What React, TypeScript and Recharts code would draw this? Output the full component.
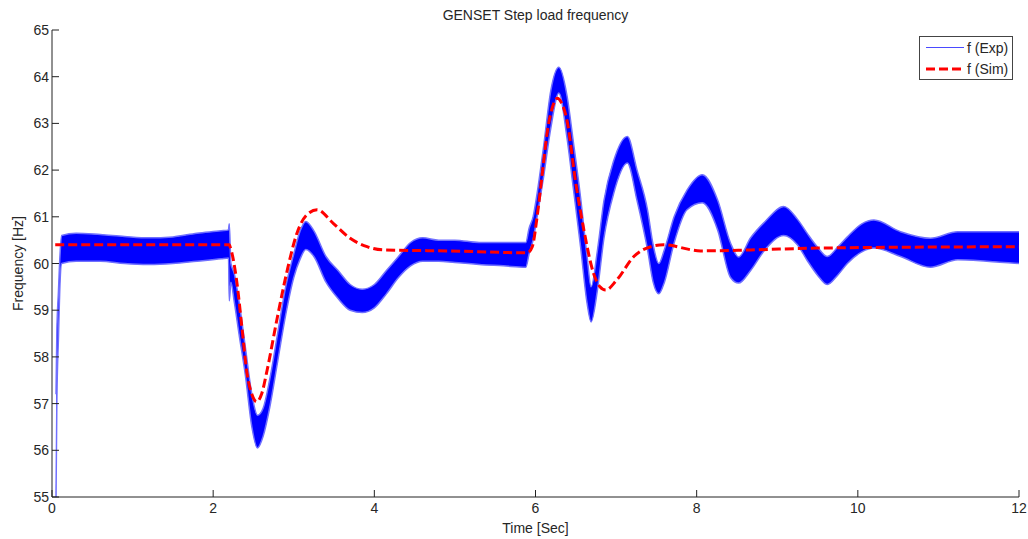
import React from 'react';
import { ComposedChart, Area, Line, XAxis, YAxis } from 'recharts';

// Experimental signal (dense oscillation) as upper / lower envelope
const expT = [0.05, 0.06, 0.08, 0.10, 0.12, 0.3, 0.6, 0.9, 1.2, 1.5, 1.8, 2.1, 2.19, 2.2, 2.22, 2.26, 2.32, 2.4, 2.48, 2.55, 2.62, 2.7, 2.8, 2.9, 3.0, 3.08, 3.15, 3.25, 3.4, 3.55, 3.7, 3.85, 4.0, 4.15, 4.3, 4.45, 4.6, 4.8, 5.0, 5.3, 5.6, 5.88, 5.92, 5.97, 6.02, 6.1, 6.19, 6.29, 6.39, 6.47, 6.56, 6.64, 6.69, 6.77, 6.85, 6.97, 7.14, 7.26, 7.39, 7.46, 7.53, 7.6, 7.72, 7.88, 8.07, 8.26, 8.42, 8.52, 8.67, 8.85, 9.08, 9.25, 9.37, 9.5, 9.62, 9.75, 9.87, 10.05, 10.2, 10.53, 10.9, 11.24, 11.6, 12.0];
const expLow = [55.0, 57.0, 58.4, 59.6, 60.0, 60.05, 60.05, 60.0, 59.98, 60.0, 60.05, 60.1, 60.12, 59.2, 59.6, 59.2, 58.5, 57.6, 56.5, 56.05, 56.3, 56.9, 57.9, 58.9, 59.7, 60.1, 60.3, 60.15, 59.6, 59.25, 59.0, 58.95, 59.05, 59.35, 59.7, 59.95, 60.05, 60.05, 60.02, 59.98, 59.95, 59.92, 60.2, 60.5, 61.0, 61.85, 62.9, 63.65, 62.7, 61.6, 60.35, 59.15, 58.75, 59.45, 60.55, 61.5, 62.15, 61.35, 60.3, 59.6, 59.35, 59.6, 60.44, 61.15, 61.3, 60.72, 59.7, 59.58, 59.85, 60.3, 60.6, 60.4, 60.07, 59.75, 59.55, 59.75, 60.0, 60.25, 60.33, 60.15, 59.92, 60.08, 60.05, 60.0];
const expHigh = [57.2, 58.5, 59.4, 60.2, 60.6, 60.65, 60.62, 60.58, 60.55, 60.57, 60.65, 60.7, 60.72, 60.85, 60.0, 59.8, 59.2, 58.2, 57.2, 56.75, 56.9, 57.5, 58.5, 59.5, 60.2, 60.7, 60.9, 60.7, 60.15, 59.85, 59.55, 59.45, 59.55, 59.85, 60.15, 60.45, 60.55, 60.5, 60.5, 60.45, 60.45, 60.45, 60.75, 61.0, 61.5, 62.5, 63.7, 64.2, 63.6, 62.6, 61.4, 60.15, 59.5, 60.3, 61.35, 62.2, 62.72, 62.0, 61.15, 60.4, 60.0, 60.3, 61.0, 61.57, 61.9, 61.36, 60.44, 60.14, 60.55, 60.9, 61.22, 60.95, 60.65, 60.35, 60.15, 60.35, 60.57, 60.85, 60.93, 60.68, 60.54, 60.68, 60.68, 60.68];

// Simulated frequency
const simT = [0.04, 2.2, 2.21, 2.29, 2.36, 2.42, 2.48, 2.54, 2.6, 2.67, 2.79, 2.92, 3.04, 3.16, 3.29, 3.49, 3.7, 3.91, 4.12, 4.9, 5.9, 5.96, 6.02, 6.08, 6.15, 6.22, 6.27, 6.32, 6.39, 6.5, 6.6, 6.72, 6.8, 6.87, 7.01, 7.22, 7.43, 7.59, 8.05, 8.67, 9.5, 12.0];
const simF = [60.4, 60.4, 60.36, 59.65, 58.58, 57.65, 57.2, 57.04, 57.2, 57.72, 58.79, 59.86, 60.65, 61.04, 61.15, 60.86, 60.54, 60.36, 60.29, 60.27, 60.23, 60.36, 61.0, 61.86, 62.86, 63.4, 63.54, 63.45, 63.07, 61.72, 60.72, 59.79, 59.5, 59.43, 59.65, 60.15, 60.36, 60.4, 60.27, 60.29, 60.33, 60.36];

const xTicks = [0, 2, 4, 6, 8, 10, 12];
const yTicks = [55, 56, 57, 58, 59, 60, 61, 62, 63, 64, 65];

const title = 'GENSET Step load frequency';
const xLabel = 'Time [Sec]';
const yLabel = 'Frequency [Hz]';
const expName = 'f (Exp)';
const simName = 'f (Sim)';

const expData = expT.map((t, i) => ({ t, range: [expLow[i], expHigh[i]] }));
const simData = simT.map((t, i) => ({ t, f: simF[i] }));

const FONT = '"Liberation Sans", Arial, Helvetica, sans-serif';
const TXT = '#262626';
const AX = '#222';
const TL = 7;

const BottomTick = (p: any) => (
  <g>
    <line x1={p.x} y1={p.y} x2={p.x} y2={p.y - TL} stroke={AX} strokeWidth={1} />
    <text x={p.x} y={p.y + 16} textAnchor="middle" fontFamily={FONT} fontSize={14} fill={TXT}>{p.payload.value}</text>
  </g>
);
const TopTick = (p: any) => (
  <line x1={p.x} y1={p.y} x2={p.x} y2={p.y + TL} stroke={AX} strokeWidth={1} />
);
const LeftTick = (p: any) => (
  <g>
    <line x1={p.x} y1={p.y} x2={p.x + TL} y2={p.y} stroke={AX} strokeWidth={1} />
    <text x={p.x - 3} y={p.y + 5} textAnchor="end" fontFamily={FONT} fontSize={14} fill={TXT}>{p.payload.value}</text>
  </g>
);
const RightTick = (p: any) => (
  <line x1={p.x} y1={p.y} x2={p.x - TL} y2={p.y} stroke={AX} strokeWidth={1} />
);

export default function App() {
  return (
    <div style={{ position: 'absolute', left: 0, top: 0, width: 1028, height: 539, background: '#fff' }}>
      <ComposedChart width={1028} height={539} margin={{ top: 30, right: 9, bottom: 0, left: 0 }}>
        <XAxis
          xAxisId="b"
          dataKey="t"
          type="number"
          domain={[0, 12]}
          ticks={xTicks}
          interval={0}
          allowDataOverflow
          height={42}
          tickSize={0}
          tickMargin={0}
          tickLine={false}
          tick={<BottomTick />}
          axisLine={{ stroke: AX }}
          label={{
            content: (props: any) => {
              const vb = props.viewBox;
              return (
                <text x={vb.x + vb.width / 2} y={vb.y + 36} textAnchor="middle" fontFamily={FONT} fontSize={14} fill={TXT}>{xLabel}</text>
              );
            },
          }}
        />
        <XAxis
          xAxisId="top"
          orientation="top"
          dataKey="t"
          type="number"
          domain={[0, 12]}
          ticks={xTicks}
          interval={0}
          height={0}
          tickSize={0}
          tickMargin={0}
          tickLine={false}
          tick={<TopTick />}
          axisLine={{ stroke: AX }}
        />
        <YAxis
          yAxisId="l"
          type="number"
          domain={[55, 65]}
          ticks={yTicks}
          interval={0}
          allowDataOverflow
          width={52}
          tickSize={0}
          tickMargin={0}
          tickLine={false}
          tick={<LeftTick />}
          axisLine={{ stroke: AX }}
          label={{
            content: (props: any) => {
              const vb = props.viewBox;
              const cx = 23;
              const cy = vb.y + vb.height / 2;
              return (
                <text x={cx} y={cy} transform={`rotate(-90, ${cx}, ${cy})`} textAnchor="middle" fontFamily={FONT} fontSize={14} fill={TXT}>{yLabel}</text>
              );
            },
          }}
        />
        <YAxis
          yAxisId="r"
          orientation="right"
          type="number"
          domain={[55, 65]}
          ticks={yTicks}
          interval={0}
          width={0}
          tickSize={0}
          tickMargin={0}
          tickLine={false}
          tick={<RightTick />}
          axisLine={{ stroke: AX }}
        />
        <Area
          xAxisId="b"
          yAxisId="l"
          data={expData}
          dataKey="range"
          type="monotone"
          stroke="#7070ff"
          strokeWidth={1.5}
          fill="#0000ff"
          fillOpacity={1}
          isAnimationActive={false}
          name={expName}
        />
        <Line
          xAxisId="b"
          yAxisId="l"
          data={simData}
          dataKey="f"
          type="monotone"
          stroke="#ff0000"
          strokeWidth={3}
          strokeDasharray="9 4"
          dot={false}
          isAnimationActive={false}
          name={simName}
        />
      </ComposedChart>
      <svg width={1028} height={539} style={{ position: 'absolute', left: 0, top: 0, pointerEvents: 'none' }}>
        <text x={535.5} y={20} textAnchor="middle" fontFamily={FONT} fontSize={14} fill={TXT}>{title}</text>
        <g transform="translate(919,36)">
          <rect x={0.5} y={0.5} width={93} height={43} fill="#fff" stroke="#444" />
          <rect x={7} y={11} width={38} height={1} fill="#4a4aff" />
          <text x={48} y={16.5} fontFamily={FONT} fontSize={14} fill={TXT}>{expName}</text>
          <line x1={7} y1={33} x2={45} y2={33} stroke="#ff0000" strokeWidth={3} strokeDasharray="9 4" />
          <text x={48} y={37.5} fontFamily={FONT} fontSize={14} fill={TXT}>{simName}</text>
        </g>
      </svg>
    </div>
  );
}
